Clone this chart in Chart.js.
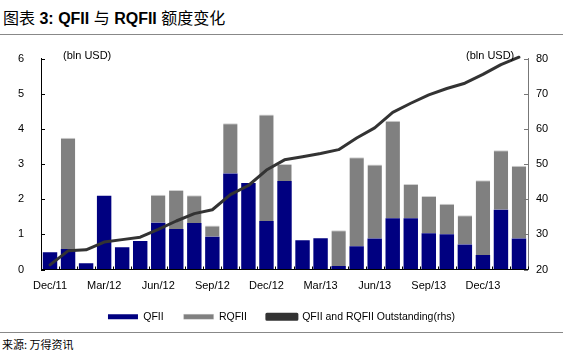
<!DOCTYPE html>
<html><head><meta charset="utf-8">
<script src="https://cdn.jsdelivr.net/npm/chart.js@4"></script>
<style>
html,body{margin:0;padding:0;background:#fff;}
body{width:563px;height:356px;position:relative;overflow:hidden;font-family:'Liberation Sans',Arial,sans-serif;}
#title{position:absolute;left:3px;top:5px;font-family:'Liberation Sans','Noto Sans CJK SC',sans-serif;font-size:16px;font-weight:bold;color:#000;white-space:nowrap;}
#title .cn{font-family:'Noto Sans CJK SC',sans-serif;font-weight:normal;}
#topline{position:absolute;left:0;top:34px;width:563px;height:1px;background:#888;}
#botline{position:absolute;left:0;top:332px;width:563px;height:1px;background:#888;}
#src{position:absolute;left:2px;top:336px;font-family:'Noto Sans CJK SC',sans-serif;font-size:11px;color:#000;}
#wrap{position:absolute;left:0;top:35px;width:563px;height:297px;}
.unit{position:absolute;top:49px;font-size:11px;color:#000;white-space:nowrap;}
</style></head>
<body>
<div id="title"><span class="cn">图表</span> 3: QFII <span class="cn">与</span> RQFII <span class="cn">额度变化</span></div>
<div id="wrap"><canvas id="c" width="563" height="297"></canvas></div>
<div id="topline"></div>
<div class="unit" style="left:63px;">(bln USD)</div>
<div class="unit" style="left:466px;">(bln USD)</div>
<div id="botline"></div>
<div id="src">来源: 万得资讯</div>
<script>
const months = ['Dec/11','Jan/12','Feb/12','Mar/12','Apr/12','May/12','Jun/12','Jul/12','Aug/12','Sep/12','Oct/12','Nov/12','Dec/12','Jan/13','Feb/13','Mar/13','Apr/13','May/13','Jun/13','Jul/13','Aug/13','Sep/13','Oct/13','Nov/13','Dec/13','Jan/14','Feb/14'];
const qfii = [0.49,0.58,0.18,2.10,0.63,0.81,1.33,1.15,1.32,0.93,2.73,2.46,1.38,2.52,0.83,0.89,0.10,0.66,0.88,1.46,1.46,1.03,1.00,0.71,0.41,1.70,0.88];
const rqfii = [0,3.17,0,0,0,0,0.80,1.11,0.79,0.32,1.43,0,3.03,0.48,0,0,1.02,2.53,2.11,2.77,0.97,1.06,0.87,0.83,2.13,1.69,2.07];
const outstanding = [21.3,25.3,25.6,27.8,28.5,29.2,31.4,33.8,35.9,37.0,41.3,43.9,48.3,51.2,52.1,53.0,54.1,57.4,60.3,64.7,67.3,69.7,71.5,73.0,75.5,78.3,80.4];
const shownLabels = ['Dec/11','Mar/12','Jun/12','Sep/12','Dec/12','Mar/13','Jun/13','Sep/13','Dec/13'];

const FONT = "'Liberation Sans',Arial,sans-serif";

const inwardTicks = {
  id:'inwardTicks',
  afterDraw(chart){
    const ctx = chart.ctx, a = chart.chartArea;
    const yl = chart.scales.y, yr = chart.scales.y2, x = chart.scales.x;
    ctx.save();
    ctx.lineWidth = 1;
    ctx.strokeStyle = '#000';
    yl.ticks.forEach(t=>{const p=Math.round(yl.getPixelForValue(t.value))+0.5;ctx.beginPath();ctx.moveTo(a.left,p);ctx.lineTo(a.left+4,p);ctx.stroke();});
    ctx.strokeStyle = '#777';
    yr.ticks.forEach(t=>{const p=Math.round(yr.getPixelForValue(t.value))+0.5;ctx.beginPath();ctx.moveTo(a.right,p);ctx.lineTo(a.right-4,p);ctx.stroke();});
    ctx.strokeStyle = '#000';
    for(let i=0;i<=months.length;i++){
      const p = Math.round(x.getPixelForValue(i-0.5))+0.5;
      ctx.beginPath();ctx.moveTo(p,a.bottom);ctx.lineTo(p,a.bottom-3);ctx.stroke();
    }
    ctx.restore();
  }
};

new Chart(document.getElementById('c'),{
  data:{
    labels: months,
    datasets:[
      {type:'line',label:'QFII and RQFII Outstanding(rhs)',data:outstanding,yAxisID:'y2',borderColor:'#333333',backgroundColor:'#333333',borderWidth:3,pointRadius:0,tension:0,borderJoinStyle:'round',borderCapStyle:'round',order:0,clip:false},
      {type:'bar',label:'QFII',data:qfii,yAxisID:'y',backgroundColor:'#000080',borderWidth:0,stack:'s',order:1},
      {type:'bar',label:'RQFII',data:rqfii,yAxisID:'y',backgroundColor:'#808080',borderColor:'#d0d0d0',borderWidth:{top:1,left:0,right:0,bottom:0},borderSkipped:'bottom',stack:'s',order:1}
    ]
  },
  options:{
    responsive:false,animation:false,
    layout:{padding:{top:4,left:0,right:0,bottom:0}},
    datasets:{bar:{categoryPercentage:1,barPercentage:0.8}},
    plugins:{
      tooltip:{enabled:false},
      legend:{
        position:'bottom',
        labels:{
          boxWidth:30,boxHeight:5,padding:20,color:'#000',
          font:{family:FONT,size:10.5},
          sort:(a,b)=>{const o={'QFII':0,'RQFII':1};return (o[a.text]??2)-(o[b.text]??2);}
        }
      }
    },
    scales:{
      x:{
        stacked:true,
        offset:true,
        grid:{display:true,drawOnChartArea:false,drawTicks:false,offset:true},
        border:{display:true,color:'#000',width:1},
        ticks:{autoSkip:false,maxRotation:0,padding:10,color:'#000',font:{family:FONT,size:11},
          callback:function(v,i){const l=months[i];return shownLabels.includes(l)?l:'';}},
        afterFit:(s)=>{s.height=22;}
      },
      y:{
        position:'left',stacked:true,min:0,max:6,
        grid:{drawOnChartArea:false,drawTicks:false},
        border:{display:true,color:'#000',width:1},
        ticks:{stepSize:1,padding:17,color:'#000',font:{family:FONT,size:11}},
        afterFit:(s)=>{s.width=41;}
      },
      y2:{
        position:'right',min:20,max:80,
        grid:{drawOnChartArea:false,drawTicks:false},
        border:{display:true,color:'#777',width:1},
        ticks:{stepSize:10,padding:8,color:'#000',font:{family:FONT,size:11}},
        afterFit:(s)=>{s.width=35;}
      }
    }
  },
  plugins:[inwardTicks]
});
</script>
</body></html>
